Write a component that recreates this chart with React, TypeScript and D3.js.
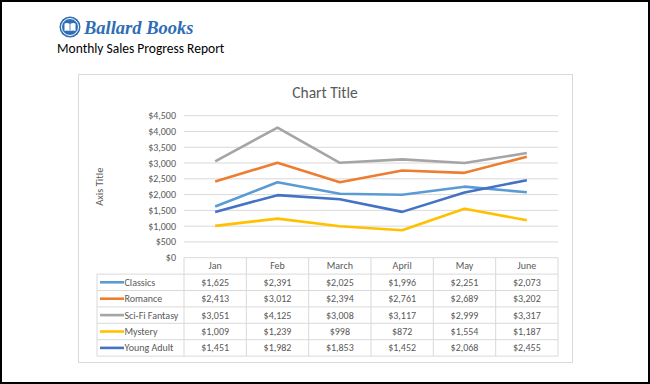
import React from 'react';
import * as d3 from 'd3';

const months = ['Jan', 'Feb', 'March', 'April', 'May', 'June'];
const seriesNames = ['Classics', 'Romance', 'Sci-Fi Fantasy', 'Mystery', 'Young Adult'];
const classics = [1625, 2391, 2025, 1996, 2251, 2073];
const romance = [2413, 3012, 2394, 2761, 2689, 3202];
const scifi = [3051, 4125, 3008, 3117, 2999, 3317];
const mystery = [1009, 1239, 998, 872, 1554, 1187];
const youngAdult = [1451, 1982, 1853, 1452, 2068, 2455];
const yTicks = [0, 500, 1000, 1500, 2000, 2500, 3000, 3500, 4000, 4500];
const colors = ['#5B9BD5', '#ED7D31', '#A5A5A5', '#FFC000', '#4472C4'];

const allSeries = [classics, romance, scifi, mystery, youngAdult];
const font = 'Calibri, Carlito, "Open Sans", sans-serif';

const App: React.FC = () => {
  const width = 650;
  const height = 384;
  const left = 184;
  const right = 558;
  const top = 115.7;
  const bottom = 257.7;

  const x = d3.scaleBand<string>().domain(months).range([left, right]);
  const y = d3.scaleLinear().domain([0, 4500]).range([bottom, top]);
  const fmt = (v: number) => '$' + d3.format(',')(v);

  const line = d3.line<number>()
    .x((_, i) => (x(months[i]) as number) + x.bandwidth() / 2)
    .y(d => y(d));

  const rowH = 16.4;
  const tableTop = bottom;
  const legendLeft = 97;

  return (
    <svg width={width} height={height} style={{ position: 'absolute', left: 0, top: 0 }}>
      <rect x={0} y={0} width={width} height={height} fill="#fff" />
      <rect x={1} y={1} width={width - 2} height={height - 2} fill="none" stroke="#000" strokeWidth={2} />

      {/* header */}
      <circle cx={70} cy={27} r={10.5} fill="#2F6DB5" />
      <circle cx={70} cy={27} r={8.5} fill="none" stroke="#fff" strokeWidth={1} />
      <path d="M64.5,23.5 Q67,22.5 69.6,23.8 L69.6,31 Q67,30 64.5,31 Z M75.5,23.5 Q73,22.5 70.4,23.8 L70.4,31 Q73,30 75.5,31 Z" fill="#fff" />
      <text x={84} y={34} fontFamily='"Liberation Serif", serif' fontStyle="italic" fontWeight="bold" fontSize={18.5} fill="#2F6DB5">Ballard Books</text>
      <text x={57} y={53} fontFamily={font} fontSize={13.5} fill="#000">Monthly Sales Progress Report</text>

      {/* chart box */}
      <rect x={78.5} y={74.5} width={494} height={288} fill="#fff" stroke="#D9D9D9" />
      <text x={325} y={98} textAnchor="middle" fontFamily={font} fontSize={15.5} fill="#595959">Chart Title</text>
      <text transform={`translate(103,${(top + bottom) / 2}) rotate(-90)`} textAnchor="middle" fontFamily={font} fontSize={10.5} fill="#595959">Axis Title</text>

      {yTicks.map(t => (
        <g key={t}>
          {t > 0 && <line x1={left} x2={right} y1={y(t)} y2={y(t)} stroke="#D9D9D9" />}
          <text x={176} y={y(t) + 3.5} textAnchor="end" fontFamily={font} fontSize={10} fill="#595959">{fmt(t)}</text>
        </g>
      ))}

      {allSeries.map((s, i) => (
        <path key={i} d={line(s) || ''} fill="none" stroke={colors[i]} strokeWidth={2.6} strokeLinejoin="round" />
      ))}

      {/* data table */}
      <g fontFamily={font} fontSize={10} fill="#595959" stroke="none">
        <line x1={left} x2={right} y1={tableTop} y2={tableTop} stroke="#D9D9D9" />
        {months.map(m => (
          <text key={m} x={(x(m) as number) + x.bandwidth() / 2} y={tableTop + rowH / 2 + 3.5} textAnchor="middle">{m}</text>
        ))}
        {d3.range(0, 7).map(j => (
          <line key={'v' + j} x1={left + j * x.bandwidth()} x2={left + j * x.bandwidth()} y1={tableTop} y2={tableTop + rowH * 6} stroke="#D9D9D9" />
        ))}
        <line x1={legendLeft} x2={legendLeft} y1={tableTop + rowH} y2={tableTop + rowH * 6} stroke="#D9D9D9" />
        {d3.range(1, 7).map(r => (
          <line key={'h' + r} x1={legendLeft} x2={right} y1={tableTop + rowH * r} y2={tableTop + rowH * r} stroke="#D9D9D9" />
        ))}
        {seriesNames.map((name, i) => {
          const cy = tableTop + rowH * (i + 1) + rowH / 2;
          return (
            <g key={name}>
              <line x1={100} x2={124} y1={cy} y2={cy} stroke={colors[i]} strokeWidth={2.6} />
              <text x={124.5} y={cy + 3.5}>{name}</text>
              {allSeries[i].map((v, j) => (
                <text key={j} x={(x(months[j]) as number) + x.bandwidth() / 2} y={cy + 3.5} textAnchor="middle">{fmt(v)}</text>
              ))}
            </g>
          );
        })}
      </g>
    </svg>
  );
};

export default App;
